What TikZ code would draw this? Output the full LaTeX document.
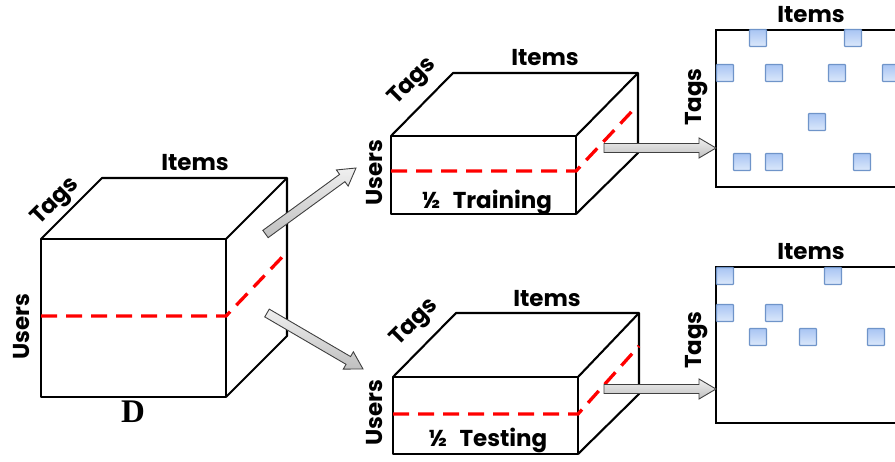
\documentclass[tikz,border=0pt]{standalone}
\usepackage{fontspec}
\setmainfont{Poppins}
\newfontfamily\serifD{Liberation Serif}
\usetikzlibrary{calc}

\definecolor{sqtop}{HTML}{A9C5F3}
\definecolor{sqbot}{HTML}{DCE8FB}
\definecolor{sqedge}{HTML}{6F94C9}

\tikzset{
  edge/.style={line width=2.1pt, line join=round},
  cut/.style={red, line width=3.3pt, dash pattern=on 16pt off 9pt},
  lbl/.style={font=\bfseries\fontsize{23}{23}\selectfont, inner sep=0pt},
  matrixbox/.style={draw, line width=2.1pt},
  entry/.style={draw=sqedge, line width=1.2pt, top color=sqtop, bottom color=sqbot,
                minimum size=17pt, inner sep=0pt, rounded corners=0.8pt},
  blockarrowsty/.style={draw=black!75, line width=0.9pt, top color=gray!12,
                bottom color=gray!50, line join=miter}
}

% fat outlined arrow from coordinate #1 to coordinate #2
\newcommand\blockarrow[2]{%
  \coordinate (hb) at ($(#2)!17pt!(#1)$);
  \draw[blockarrowsty]
    ($(#1)!4.5pt!90:(#2)$) -- ($(hb)!4.5pt!90:(#2)$) -- ($(hb)!10pt!90:(#2)$)
    -- (#2) -- ($(hb)!10pt!-90:(#2)$) -- ($(hb)!4.5pt!-90:(#2)$)
    -- ($(#1)!4.5pt!-90:(#2)$) -- cycle;}

\begin{document}
\begin{tikzpicture}[x=1pt, y=-1pt]
\useasboundingbox (0,0) rectangle (895,461);
\clip (0,0) rectangle (895,461);

% ---- full tensor D
\draw[edge] (41,239) rectangle (226,397);
\draw[edge] (41,239) -- (102,178) -- (287,178) -- (287,336) -- (226,397);
\draw[edge] (226,239) -- (287,178);
\draw[cut] (41,316) -- (226,316) -- (287,252);
\node[lbl] (dItems) at (195,163) {Items};
\node[lbl, rotate=45] (dTags) at (56,202) {Tags};
\node[lbl, rotate=90] (dUsers) at (22,327) {Users};
\node[inner sep=0pt, font=\serifD\bfseries\fontsize{33}{33}\selectfont] (dName) at (133,412) {D};

% ---- training half
\draw[edge] (391,136) rectangle (576,214);
\draw[edge] (391,136) -- (453,73) -- (638,73) -- (638,153) -- (576,214);
\draw[edge] (576,136) -- (638,73);
\draw[cut] (391,171) -- (576,171) -- (635,108);
\node[lbl] (trItems) at (545,58) {Items};
\node[lbl, rotate=45] (trTags) at (413,82) {Tags};
\node[lbl, rotate=90] (trUsers) at (375,173) {Users};
\node[lbl] (trName) at (487,202) {½\hspace{12pt}Training};

% ---- testing half
\draw[edge] (393,377) rectangle (578,454);
\draw[edge] (393,377) -- (456,313) -- (639,313) -- (639,394) -- (578,454);
\draw[edge] (578,377) -- (639,313);
\draw[cut] (393,414) -- (578,414) -- (639,346);
\node[lbl] (teItems) at (547,299) {Items};
\node[lbl, rotate=45] (teTags) at (415,323) {Tags};
\node[lbl, rotate=90] (teUsers) at (375,413) {Users};
\node[lbl] (teName) at (488,440) {½\hspace{12pt}Testing};

% ---- tag-item slices
\draw[matrixbox] (716,30) rectangle (915,187);
\node[lbl] (m1Items) at (811,15) {Items};
\node[lbl, rotate=90] (m1Tags) at (697,97) {Tags};
\foreach \x/\y [count=\i] in {758/38, 853/38, 725/73, 774/73, 837/73, 891/73,
                             817/122, 742/162, 774/162, 862/162}
  \node[entry] (a\i) at (\x,\y) {};

\draw[matrixbox] (716,267) rectangle (915,423);
\node[lbl] (m2Items) at (811,252) {Items};
\node[lbl, rotate=90] (m2Tags) at (697,340) {Tags};
\foreach \x/\y [count=\i] in {725/276, 833/276, 725/313, 774/313,
                             758/337, 808/337, 876/337}
  \node[entry] (b\i) at (\x,\y) {};

% ---- arrows
\coordinate (splitA) at (265.5,234);
\coordinate (toTrain) at (356,168);
\coordinate (splitB) at (267,313);
\coordinate (toTest) at (363,369);
\coordinate (trOut) at (604,148);
\coordinate (m1In) at (716,148);
\coordinate (teOut) at (604,389);
\coordinate (m2In) at (716,389);
\blockarrow{splitA}{toTrain}
\blockarrow{splitB}{toTest}
\blockarrow{trOut}{m1In}
\blockarrow{teOut}{m2In}
\end{tikzpicture}
\end{document}
